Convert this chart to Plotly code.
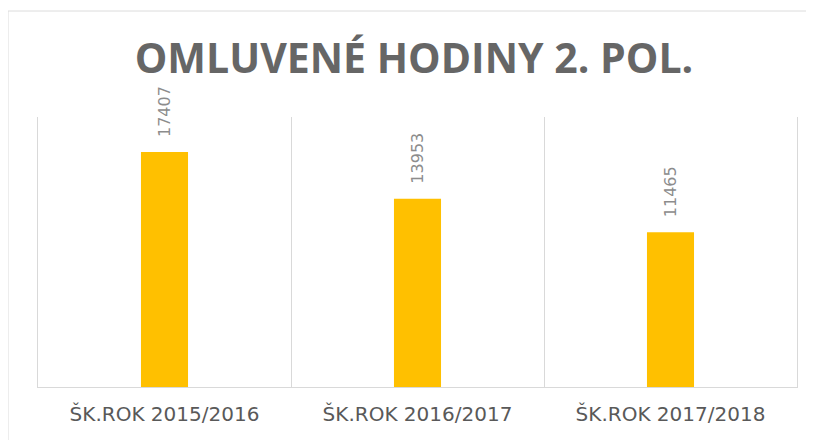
import plotly.graph_objects as go

categories = ["ŠK.ROK 2015/2016", "ŠK.ROK 2016/2017", "ŠK.ROK 2017/2018"]
values = [17407, 13953, 11465]
title_text = "OMLUVENÉ HODINY 2. POL."

# the page body adds an 8px offset, so the figure is laid out in 806x432
OFF = 8
W, H = 814 - OFF, 440 - OFF
ml, mr, mt, mb = 38 - OFF, W - (797 - OFF), 117 - OFF, H - (387 - OFF)
pw, ph = W - ml - mr, H - mt - mb

fig = go.Figure()
fig.add_trace(go.Bar(
    x=categories, y=values,
    marker=dict(color="#FFC000", line=dict(width=0)),
    hoverinfo="x+y",
))

for c, v in zip(categories, values):
    fig.add_annotation(
        x=c, y=v, xref="x", yref="y",
        text=str(v), textangle=-90, showarrow=False,
        xanchor="center", yanchor="bottom", yshift=13,
        font=dict(family="DejaVu Sans", size=16, color="#8c8c8c"),
    )

# chart border (cropped at right/bottom in the reference)
fig.add_shape(
    type="rect", xref="paper", yref="paper",
    x0=(8 - OFF - ml) / pw, x1=(W + 20 - ml) / pw,
    y0=-(H + 20 - mt - ph) / ph, y1=1 + (mt - (11 - OFF)) / ph,
    line=dict(color="#dcdcdc", width=1), fillcolor="rgba(0,0,0,0)",
    layer="below",
)

fig.update_layout(
    width=W, height=H,
    margin=dict(l=ml, r=mr, t=mt, b=mb, pad=0),
    paper_bgcolor="white", plot_bgcolor="white",
    bargap=0.814,
    showlegend=False,
    title=dict(
        text=f"<b>{title_text}</b>",
        font=dict(family="Open Sans", size=41, color="#666666"),
        x=(414 - OFF) / W, xref="container", xanchor="center",
        y=1 - (59 - OFF) / H, yref="container", yanchor="middle",
    ),
    xaxis=dict(
        type="category", tickson="boundaries", showgrid=True,
        gridcolor="#d9d9d9", gridwidth=1,
        showline=True, linecolor="#d9d9d9", linewidth=1,
        ticks="", ticklen=0, ticklabelstandoff=9,
        tickfont=dict(family="DejaVu Sans", size=20, color="#595959"),
        fixedrange=True,
    ),
    yaxis=dict(
        range=[0, 20000], showgrid=False, showticklabels=False,
        zeroline=False, showline=True, mirror=True,
        linecolor="#d9d9d9", linewidth=1, ticks="",
    ),
)

fig.write_html("out.html")
